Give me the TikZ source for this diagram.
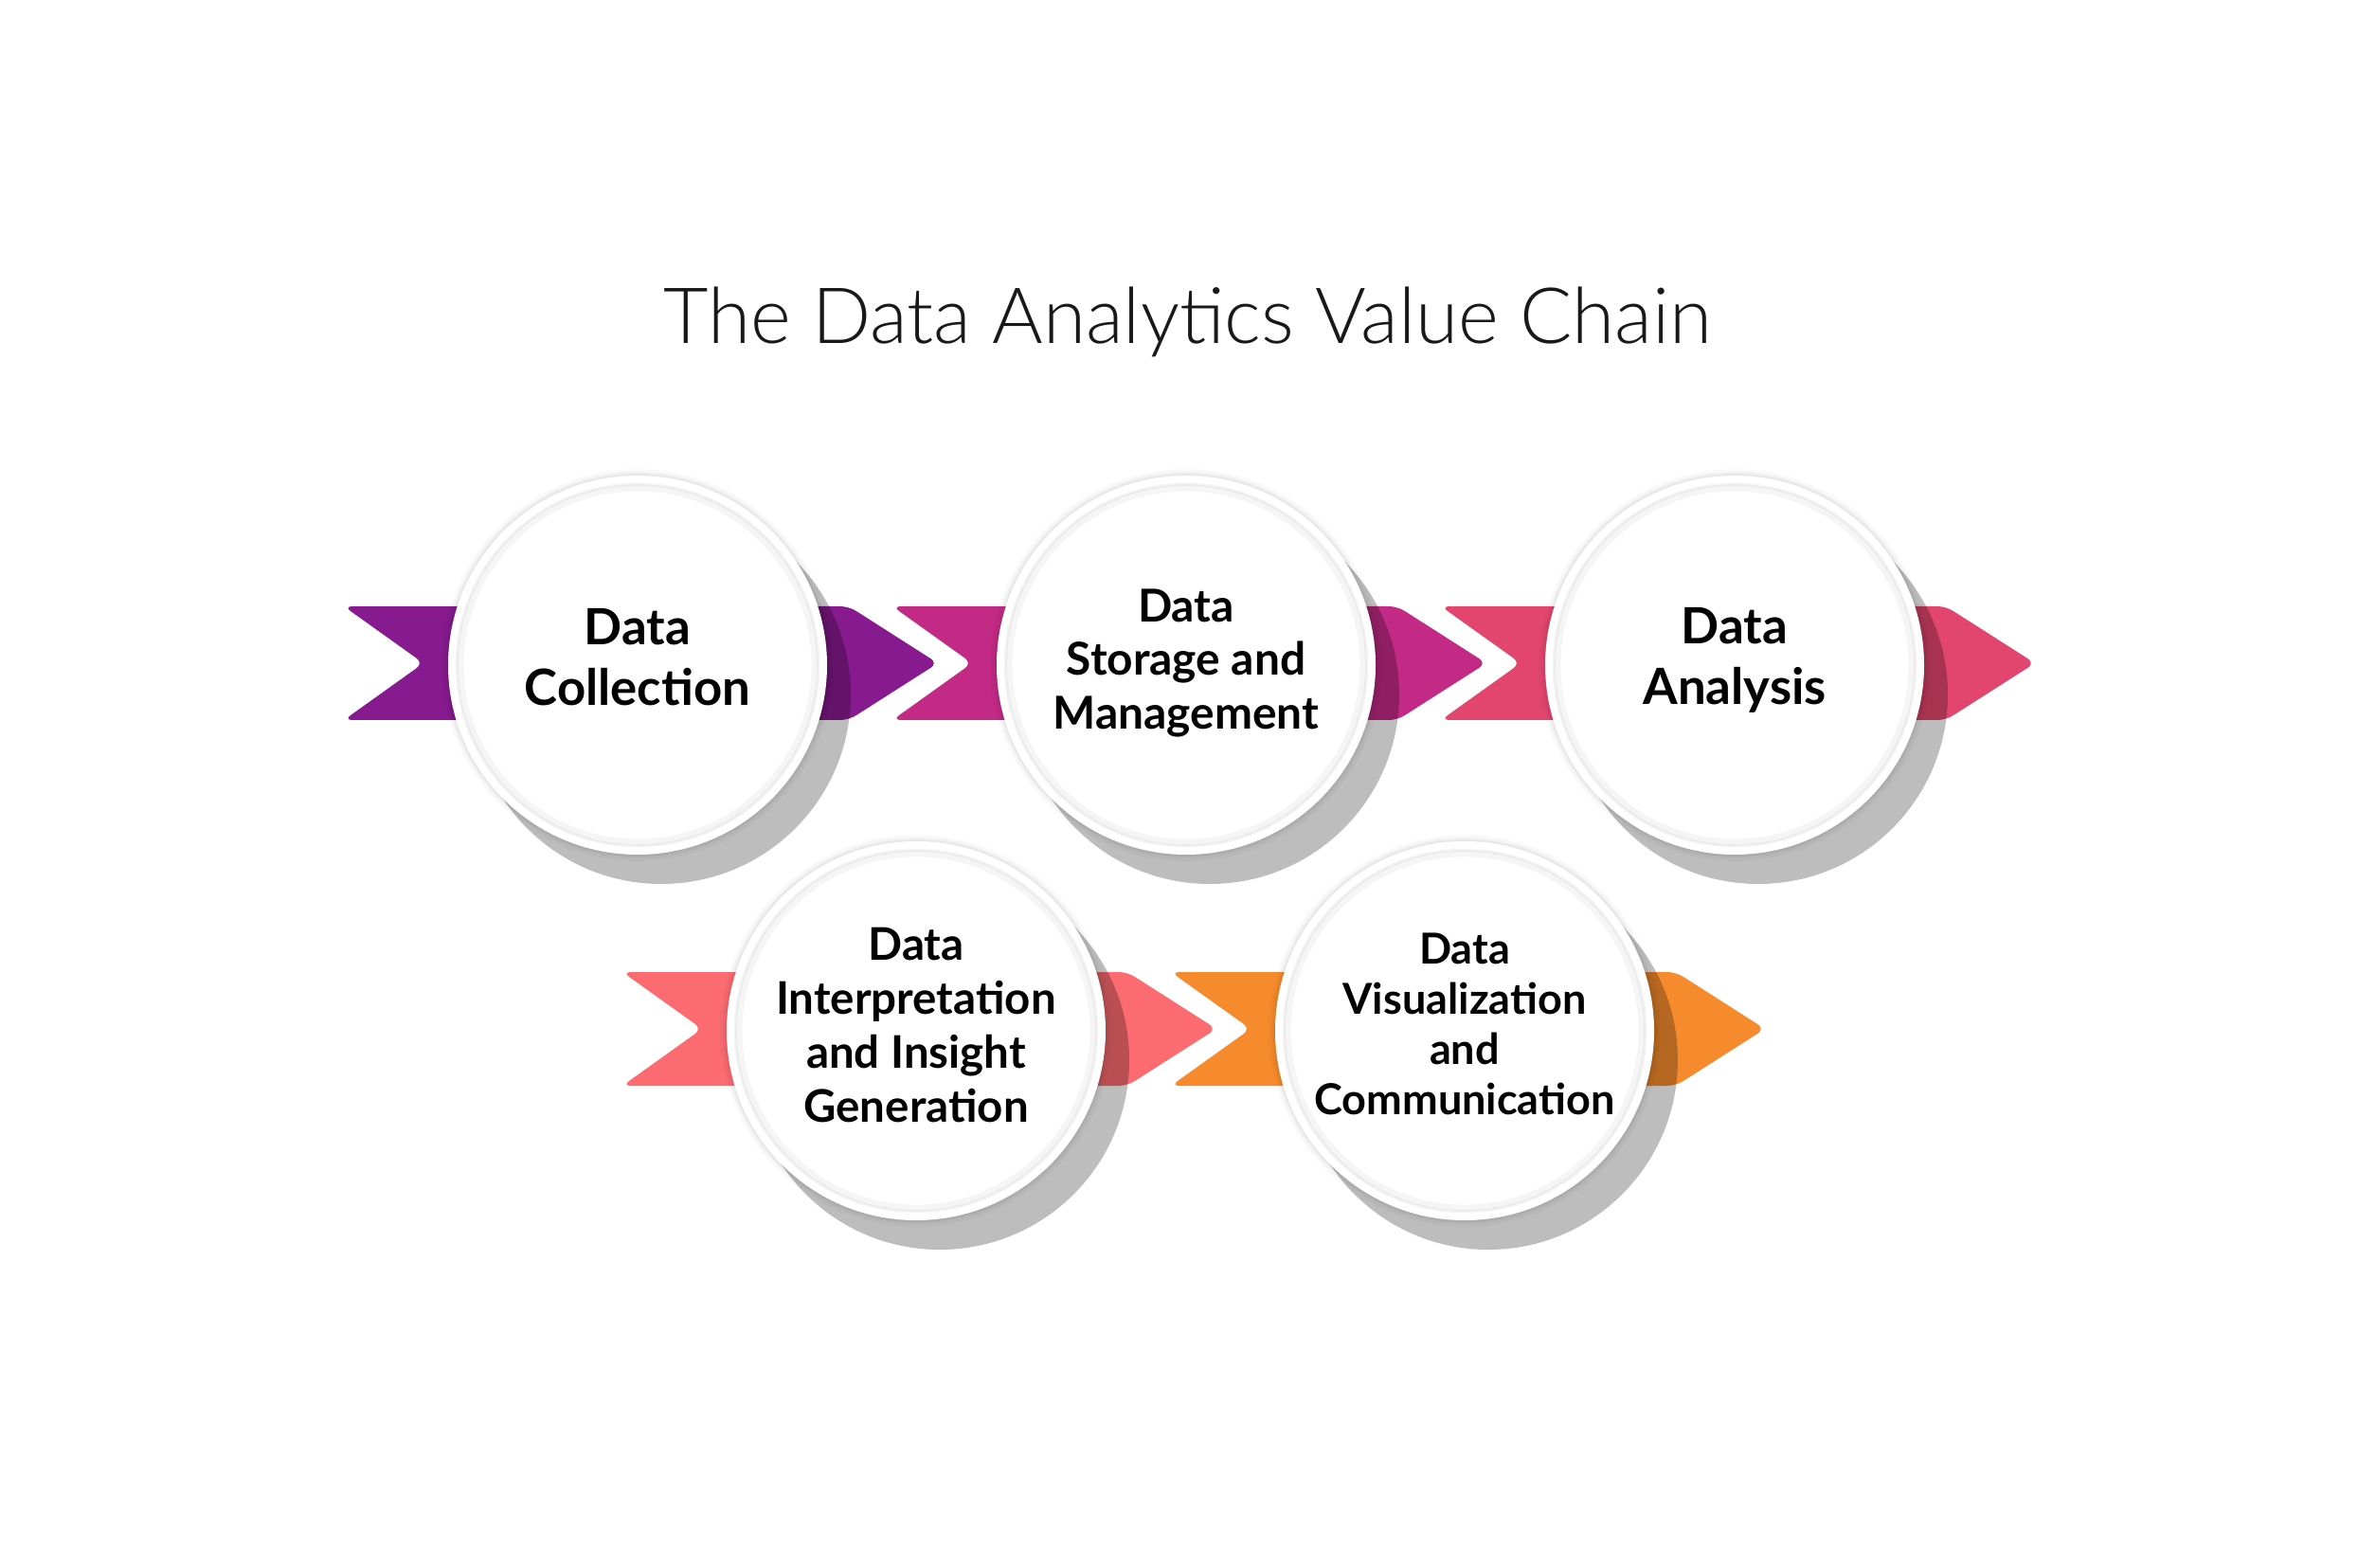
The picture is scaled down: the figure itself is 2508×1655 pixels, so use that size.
\documentclass[tikz,border=0pt]{standalone}
\usepackage{fontspec}
\setmainfont{Lato}
\newfontfamily\titlefont{Lato Light}
\definecolor{cpurple}{HTML}{861A8E}
\definecolor{cmagenta}{HTML}{C22A85}
\definecolor{cpink}{HTML}{E2466E}
\definecolor{ccoral}{HTML}{FB6B70}
\definecolor{corange}{HTML}{F68B2D}
\tikzset{
  chevfill/.style={fill=#1, rounded corners=2.5pt},
  dropshadow/.style={fill=black, opacity=0.26},
  halo/.style={fill=black, opacity=#1},
  stepdisc/.style={circle, minimum size=3.8cm, inner sep=0pt, align=center, text=black},
  titletext/.style={font=\titlefont\fontsize{23.3}{28}\selectfont, text=black!90}
}
\newcommand\mychev[3]{%
  \fill[chevfill=#3] (#1-310,#2-60) -- (#1+223,#2-60) -- (#1+317,#2) -- (#1+223,#2+60) -- (#1-310,#2+60) -- (#1-226,#2) -- cycle;}
\newcommand\mydisc[6]{%
  \fill[dropshadow] (#2+25,#3+31) circle[radius=200];
  \fill[halo=0.025] (#2,#3) circle[radius=207];
  \fill[halo=0.03] (#2,#3) circle[radius=204];
  \fill[halo=0.04] (#2,#3) circle[radius=202];
  \fill[white] (#2,#3) circle[radius=200];
  \draw[black!4, line width=2.5pt] (#2,#3) circle[radius=188];
  \draw[black!8, line width=0.5pt] (#2,#3) circle[radius=190];
  \node[stepdisc, font=#5] (#1) at (#2,#3-#6) {#4};}
\begin{document}
\begin{tikzpicture}[x=0.01cm,y=-0.01cm]
\useasboundingbox (0,0) rectangle (2508,1655);
\fill[white] (0,0) rectangle (2508,1655);
\node[titletext, anchor=base] (title) at (1254,363) {The Data Analytics Value Chain};
% row 1
\mychev{673}{700}{cpurple}
\mydisc{s1}{673}{702}{Data\\Collection}{\bfseries\fontsize{15}{18.2}\selectfont}{8}
\mychev{1252}{700}{cmagenta}
\mydisc{s2}{1252}{702}{Data\\Storage and\\Management}{\bfseries\fontsize{13.6}{16.2}\selectfont}{2}
\mychev{1831}{700}{cpink}
\mydisc{s3}{1831}{702}{Data\\Analysis}{\bfseries\fontsize{15}{18.2}\selectfont}{5}
% row 2
\mychev{967}{1086}{ccoral}
\mydisc{s4}{967}{1088}{Data\\Interpretation\\and Insight\\Generation}{\bfseries\fontsize{13.5}{16.2}\selectfont}{6}
\mychev{1546}{1086}{corange}
\mydisc{s5}{1546}{1088}{Data\\Visualization\\and\\Communication}{\bfseries\fontsize{12.8}{15.1}\selectfont}{7}
\end{tikzpicture}
\end{document}
